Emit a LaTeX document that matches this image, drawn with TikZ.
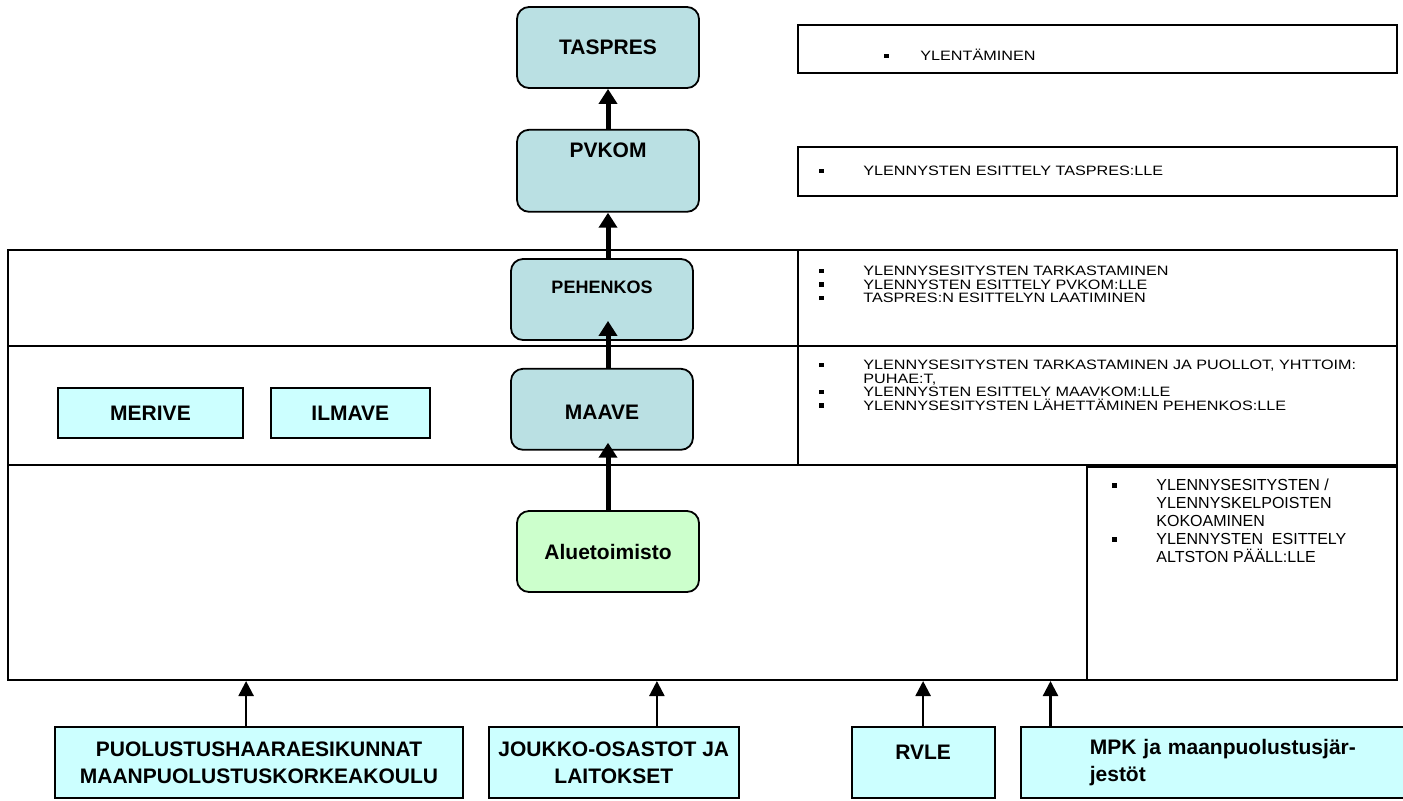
\documentclass[tikz,border=0pt]{standalone}
\usepackage{fontspec}
\setmainfont{Liberation Sans}
\newfontfamily\notefont[FakeStretch=1.19]{Liberation Sans}
\usetikzlibrary{positioning,fit,calc,arrows.meta}
\definecolor{orgblue}{RGB}{186,224,227}
\definecolor{orgcyan}{RGB}{204,255,255}
\definecolor{orggreen}{RGB}{204,255,204}
\newcommand{\bul}[1][22pt]{\makebox[#1][l]{\rule[1.4pt]{2.2pt}{2.2pt}}}
\newcommand{\ind}[1][22pt]{\hspace*{#1}}

\begin{document}
\begin{tikzpicture}[x=0.5pt, y=-0.5pt,
		unit/.style={rectangle, rounded corners=6pt, draw=black, line width=0.9pt, fill=orgblue, minimum width=91pt, minimum height=40.5pt, inner sep=0pt, font=\bfseries\fontsize{10.5}{12}\selectfont},
		flat/.style={rectangle, draw=black, line width=0.9pt, fill=orgcyan, inner sep=0pt, align=center, font=\bfseries\fontsize{10.5}{13.5}\selectfont},
		cell/.style={rectangle, draw=black, line width=1pt, inner sep=0pt},
		note/.style={inner sep=0pt, align=left, font=\notefont\fontsize{6.8}{6.75}\selectfont},
		bigarrow/.style={line width=2.5pt, -{Triangle[width=9pt,length=7.5pt]}},
		smallarrow/.style={line width=1.2pt, -{Triangle[width=7.5pt,length=7.5pt]}}
	]
	\useasboundingbox (0,0) rectangle (1403,800);
	% rows and text cells
	\node[cell, fit={(8,250) (798,346)}] (rowpeh) {};
	\node[cell, fit={(798,250) (1397,346)}] (rowpehtxt) {};
	\node[cell, fit={(8,346) (798,465)}] (rowmaa) {};
	\node[cell, fit={(798,346) (1397,465)}] (rowmaatxt) {};
	\node[cell, fit={(8,465) (1087,680)}] (rowalue) {};
	\node[cell, fit={(1087,467) (1397,680)}] (altston) {};
	\node[cell, fit={(798,25) (1397,73)}] (boxtas) {};
	\node[cell, fit={(798,147) (1397,196)}] (boxpv) {};
	% chain of units
	\node[unit] (taspres) at (608,47.5) {TASPRES};
	\node[unit, text height=13.6pt, text depth=27.4pt] (pvkom) [below=20pt of taspres] {PVKOM};
	\node[unit, text height=17.2pt, text depth=23.3pt, font=\bfseries\fontsize{9}{11}\selectfont] (pehenkos) at (602,299.5) {PEHENKOS};
	\node[unit, text height=25.1pt, text depth=15.4pt] (maave) [below=13.5pt of pehenkos] {MAAVE};
	\node[unit, fill=orggreen] (alue) at (608,551.5) {Aluetoimisto};
	\node[flat, minimum width=92.5pt, minimum height=25pt] (merive) at (150.5,413) {MERIVE};
	\node[flat, minimum width=79.5pt, minimum height=25pt] (ilmave) [right=13pt of merive] {ILMAVE};
	% senders
	\node[flat, minimum width=204pt, minimum height=35.5pt] (puol) at (259,762.5) {PUOLUSTUSHAARAESIKUNNAT\\MAANPUOLUSTUSKORKEAKOULU};
	\node[flat, minimum width=125pt, minimum height=35.5pt] (joukko) [right=12pt of puol] {JOUKKO-OSASTOT JA\\LAITOKSET};
	\node[flat, minimum width=71.5pt, minimum height=35.5pt, text height=16.25pt, text depth=19.25pt] (rvle) [right=55.5pt of joukko] {RVLE};
	\node[flat, line width=1.3pt, minimum height=35.5pt, text width=191.5pt, align=left] (mpk) [right=12pt of rvle] {\ind[34.5pt]MPK ja maanpuolustusjär-\\ \ind[34.5pt]jestöt};
	% tasks
	\node[note, anchor=base west] (tastxt) at (884,60.7) {\bul[18pt]YLENTÄMINEN};
	\node[note, anchor=base west] (pvtxt) at (819,175.7) {\bul YLENNYSTEN ESITTELY TASPRES:LLE};
	\node[note, anchor=north west] (pehtxt) at (819,266) {\bul YLENNYSESITYSTEN TARKASTAMINEN\\ \bul YLENNYSTEN ESITTELY PVKOM:LLE\\ \bul TASPRES:N ESITTELYN LAATIMINEN};
	\node[note, anchor=north west] (maatxt) at (819,360) {\bul YLENNYSESITYSTEN TARKASTAMINEN JA PUOLLOT, YHTTOIM:\\ \ind PUHAE:T,\\ \bul YLENNYSTEN ESITTELY MAAVKOM:LLE\\ \bul YLENNYSESITYSTEN LÄHETTÄMINEN PEHENKOS:LLE};
	\node[anchor=north west, inner sep=0pt, align=left, font=\fontsize{8}{9}\selectfont] (altxt) at (1112,478.3) {\bul YLENNYSESITYSTEN /\\ \ind YLENNYSKELPOISTEN\\ \ind KOKOAMINEN\\ \bul YLENNYSTEN\ \ ESITTELY\\ \ind ALTSTON PÄÄLL:LLE};
	% arrows
	\draw[bigarrow] (pvkom.north) -- (taspres.south);
	\draw[bigarrow] (pehenkos.north -| pvkom.south) -- (pvkom.south);
	\draw[bigarrow, shorten >=-10pt] (maave.north -| pvkom.south) -- (pehenkos.south -| pvkom.south);
	\draw[bigarrow, shorten >=-4pt] (alue.north) -- (maave.south -| alue.north);
	\coordinate (fromPuol) at ($(puol.north west)+(192,0)$);
	\coordinate (fromJouk) at ($(joukko.north west)+(169,0)$);
	\coordinate (fromMpk) at ($(mpk.north west)+(31,0)$);
	\draw[smallarrow] (fromPuol) -- (fromPuol |- rowalue.south);
	\draw[smallarrow] (fromJouk) -- (fromJouk |- rowalue.south);
	\draw[smallarrow] (rvle.north) -- (rvle.north |- rowalue.south);
	\draw[smallarrow] (fromMpk) -- (fromMpk |- rowalue.south);
\end{tikzpicture}
\end{document}
